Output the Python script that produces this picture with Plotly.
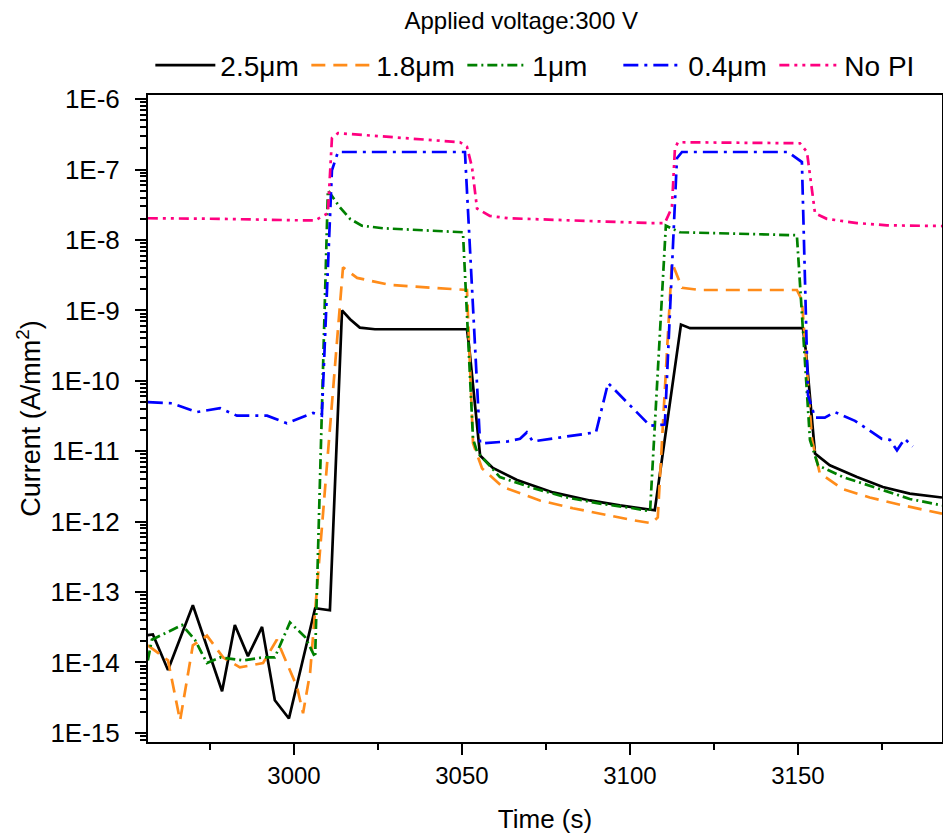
import plotly.graph_objects as go

# ---------------- data (time in s, current in A/mm^2) ----------------
t_25 = [2956.5, 2958.0, 2962.5, 2969.9, 2978.6, 2982.4, 2986.3, 2990.5, 2994.3, 2998.5,
        3006.3, 3010.7, 3014.3, 3016.7, 3019.6, 3024.1, 3051.5, 3052.1, 3055.4, 3059.2,
        3066.4, 3077.1, 3088.1, 3097.0, 3107.4, 3115.2, 3117.9, 3151.5, 3152.4, 3155.1,
        3159.5, 3167.6, 3175.3, 3183.3, 3192.9]
i_25 = [2.45e-14, 2.5e-14, 7.8e-15, 6.5e-14, 3.9e-15, 3.4e-14, 1.23e-14, 3.2e-14, 2.9e-15, 1.6e-15,
        5.9e-14, 5.5e-14, 1.0e-9, 7.5e-10, 5.7e-10, 5.4e-10, 5.4e-10, 3.2e-10, 8.7e-12, 5.8e-12,
        3.9e-12, 2.6e-12, 2.0e-12, 1.7e-12, 1.45e-12, 6.3e-10, 5.6e-10, 5.6e-10, 2.6e-10, 9.3e-12,
        6.3e-12, 4.3e-12, 3.1e-12, 2.5e-12, 2.2e-12]

t_18 = [2956.5, 2962.5, 2966.1, 2969.9, 2974.1, 2978.9, 2983.9, 2990.8, 2994.9, 3000.9,
        3002.7, 3004.8, 3014.6, 3018.8, 3028.6, 3048.5, 3051.5, 3053.3, 3056.0, 3062.2,
        3073.2, 3083.0, 3093.2, 3100.9, 3106.5, 3108.3, 3112.5, 3115.5, 3120.8, 3149.7,
        3151.2, 3154.2, 3156.5, 3163.4, 3171.4, 3181.3, 3192.9]
i_18 = [1.75e-14, 1.07e-14, 1.5e-15, 1.75e-14, 2.4e-14, 1.18e-14, 8.5e-15, 9.8e-15, 2.1e-14, 4.5e-15,
        1.9e-15, 7.1e-15, 4.1e-9, 2.9e-9, 2.3e-9, 2.0e-9, 1.95e-9, 1.3e-11, 5.7e-12, 3.1e-12,
        2.0e-12, 1.55e-12, 1.23e-12, 1.05e-12, 9.5e-13, 1.15e-12, 4.8e-9, 2.1e-9, 1.95e-9, 1.95e-9,
        1.4e-9, 1.45e-11, 4.9e-12, 2.9e-12, 2.2e-12, 1.7e-12, 1.3e-12]

t_10 = [2956.5, 2957.7, 2966.7, 2970.5, 2974.1, 2978.0, 2984.8, 2990.8, 2994.3, 2998.8,
        3003.3, 3006.3, 3010.1, 3013.7, 3016.7, 3020.2, 3026.5, 3036.6, 3050.3, 3053.3,
        3054.5, 3061.3, 3071.1, 3081.3, 3091.1, 3100.9, 3106.0, 3110.7, 3114.9, 3149.7,
        3153.6, 3156.0, 3163.4, 3173.5, 3183.3, 3192.9]
i_10 = [1.07e-14, 2.1e-14, 3.4e-14, 2.1e-14, 9.8e-15, 1.18e-14, 1.07e-14, 1.18e-14, 1.18e-14, 3.7e-14,
        2.3e-14, 1.18e-14, 5.1e-8, 2.9e-8, 2.0e-8, 1.6e-8, 1.47e-8, 1.38e-8, 1.29e-8, 1.5e-11,
        9.8e-12, 4.3e-12, 3.0e-12, 2.2e-12, 1.8e-12, 1.55e-12, 1.4e-12, 1.6e-8, 1.29e-8, 1.17e-8,
        1.45e-11, 6.3e-12, 4.3e-12, 3.0e-12, 2.1e-12, 1.7e-12]

t_04 = [2956.5, 2963.7, 2971.1, 2978.0, 2983.0, 2992.0, 2997.9, 3005.7, 3008.3, 3011.3,
        3013.1, 3050.9, 3055.4, 3063.7, 3067.3, 3069.3, 3071.1, 3079.2, 3089.9, 3093.5,
        3097.0, 3103.0, 3106.0, 3110.4, 3114.0, 3115.5, 3147.0, 3151.2, 3153.0, 3155.1,
        3158.0, 3161.0, 3167.0, 3175.0, 3177.4, 3179.5, 3181.8, 3184.2]
i_04 = [5.0e-11, 4.8e-11, 3.6e-11, 4.1e-11, 3.2e-11, 3.2e-11, 2.5e-11, 3.5e-11, 3.2e-11, 9.8e-8,
        1.78e-7, 1.78e-7, 1.29e-11, 1.38e-11, 1.5e-11, 1.85e-11, 1.38e-11, 1.58e-11, 1.86e-11, 9.3e-11,
        6.3e-11, 3.3e-11, 2.3e-11, 2.4e-11, 1.45e-7, 1.78e-7, 1.78e-7, 1.28e-7, 6.3e-11, 3.0e-11,
        3.0e-11, 3.6e-11, 2.7e-11, 1.5e-11, 1.45e-11, 1.03e-11, 1.5e-11, 1.17e-11]

t_np = [2956.5, 2978.0, 3000.3, 3006.3, 3010.1, 3011.3, 3013.1, 3028.6, 3049.4, 3051.5,
        3053.0, 3054.5, 3058.3, 3063.7, 3085.1, 3106.0, 3110.4, 3112.5, 3113.4, 3114.3,
        3150.6, 3152.7, 3154.2, 3155.1, 3158.6, 3167.6, 3176.5, 3192.9]
i_np = [2.04e-8, 2.0e-8, 1.91e-8, 1.9e-8, 2.4e-8, 2.8e-7, 3.3e-7, 2.9e-7, 2.45e-7, 2.1e-7,
        1.08e-7, 2.8e-8, 2.2e-8, 2.04e-8, 1.86e-8, 1.74e-8, 1.74e-8, 2.9e-8, 2.0e-7, 2.45e-7,
        2.37e-7, 1.78e-7, 5.1e-8, 2.4e-8, 2.0e-8, 1.74e-8, 1.62e-8, 1.58e-8]

series = [
    ("2.5μm", t_25, i_25, "#000000", "solid"),
    ("1.8μm", t_18, i_18, "#FF8C1A", "14px,8px"),
    ("1μm", t_10, i_10, "#008000", "10px,4px,2px,4px"),
    ("0.4μm", t_04, i_04, "#0000FF", "15px,6px,3px,6px"),
    ("No PI", t_np, i_np, "#FF0080", "10px,5px,3px,5px,3px,5px"),
]

x_ticks = [3000, 3050, 3100, 3150]
y_exps = list(range(-15, -5))
y_tickvals = [10.0 ** e for e in y_exps]
y_ticktext = ["1E%d" % e for e in y_exps]
y_minor = [k * 10.0 ** e for e in range(-16, -5) for k in range(2, 10)]

FONT = "Liberation Sans, Arial, sans-serif"

fig = go.Figure()
for name, t, i, color, dash in series:
    fig.add_trace(go.Scatter(x=t, y=i, mode="lines", name=name,
                             line=dict(color=color, width=2.7, dash=dash)))

fig.update_layout(
    width=943, height=838,
    margin=dict(l=148, r=1, t=95, b=96, autoexpand=False),
    plot_bgcolor="white", paper_bgcolor="white",
    font=dict(family=FONT, size=24, color="black"),
    title=dict(text="Applied voltage:300 V", x=0.47, xref="paper", xanchor="center",
               y=0.976, yref="container", yanchor="middle",
               font=dict(family=FONT, size=24, color="black")),
    legend=dict(orientation="h", xref="container", x=0.573, xanchor="center",
                yref="container", y=0.922, yanchor="middle",
                font=dict(family=FONT, size=28), bgcolor="rgba(0,0,0,0)",
                itemwidth=60, tracegroupgap=0,
                entrywidth=81, entrywidthmode="pixels"),
    showlegend=True,
)

fig.update_xaxes(
    range=[2956.55, 3192.9],
    tickmode="array", tickvals=x_ticks,
    ticks="outside", ticklen=11, tickwidth=2, tickcolor="black",
    minor=dict(ticks="outside", ticklen=6, tickwidth=2, tickcolor="black",
               tickmode="array", tickvals=[2975, 3025, 3075, 3125, 3175]),
    showline=True, linewidth=2, linecolor="black", mirror=True,
    showgrid=False, zeroline=False,
    tickfont=dict(family=FONT, size=24),
    title=dict(text="Time (s)", font=dict(family=FONT, size=26), standoff=22),
)

fig.update_yaxes(
    type="log", range=[-15.13, -5.94],
    tickmode="array", tickvals=y_tickvals, ticktext=y_ticktext,
    ticks="outside", ticklen=11, tickwidth=2, tickcolor="black",
    minor=dict(ticks="outside", ticklen=6, tickwidth=1.5, tickcolor="black",
               tickmode="array", tickvals=y_minor),
    showline=True, linewidth=2, linecolor="black", mirror=True,
    showgrid=False, zeroline=False,
    ticklabelstandoff=10,
    tickfont=dict(family=FONT, size=26),
    title=dict(text="Current (A/mm<sup>2</sup>)", font=dict(family=FONT, size=27), standoff=2),
)

fig.write_html("out.html")
